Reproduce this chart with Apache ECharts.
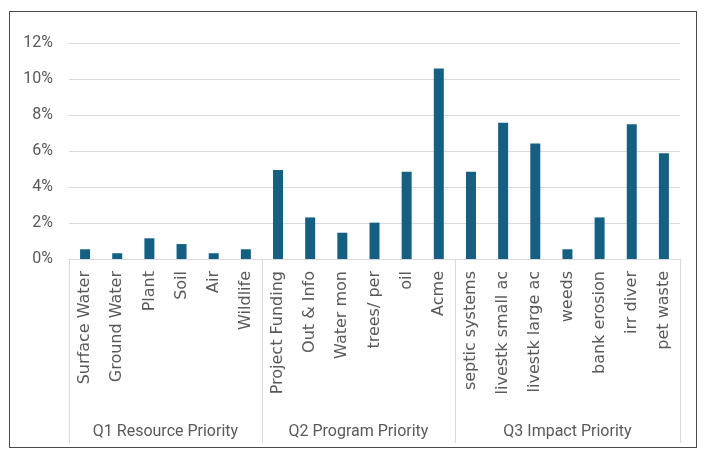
<!DOCTYPE html>
<html>
<head>
<meta charset="utf-8">
<script src="https://cdn.jsdelivr.net/npm/echarts@6/dist/echarts.min.js"></script>
<style>
  html, body { margin: 0; padding: 0; background: #fff; }
  #chart {
    position: absolute;
    left: 9px;
    top: 11px;
    width: 686px;
    height: 435px;
    border: 1px solid #4a4a4a;
  }
</style>
</head>
<body>
<div id="chart"></div>
<script>
// categories, grouped like Excel's multi-level axis
const categories = [
  'Surface Water', 'Ground Water', 'Plant', 'Soil', 'Air', 'Wildlife',
  'Project Funding', 'Out & Info', 'Water mon', 'trees/ per', 'oil', 'Acme',
  'septic systems', 'livestk small ac', 'livestk large ac', 'weeds', 'bank erosion', 'irr diver', 'pet waste'
]
const groupNames = ['Q1 Resource Priority', 'Q2 Program Priority', 'Q3 Impact Priority']
const groupSizes = [6, 6, 7]

// percent values
const values = [
  0.54, 0.32, 1.15, 0.83, 0.32, 0.54,
  4.94, 2.31, 1.46, 2.02, 4.85, 10.59,
  4.85, 7.57, 6.41, 0.54, 2.31, 7.48, 5.87
]

const yTicks = { min: 0, max: 12, step: 2 }

// group boundaries (category index where each group starts)
const groupStarts = []
let acc = 0
groupSizes.forEach(n => { groupStarts.push(acc); acc += n })

// second axis uses half-category points so group labels land on group centres
const halfPoints = new Array(categories.length * 2 + 1).fill('')
groupNames.forEach((name, i) => {
  halfPoints[groupStarts[i] * 2 + groupSizes[i]] = name
})

const chart = echarts.init(document.getElementById('chart'))

const textColor = '#595959'
const lineColor = '#d9d9d9'

chart.setOption({
  animation: false,
  grid: {
    left: 59,
    right: 16,
    top: 31,
    bottom: 188,
    containLabel: false
  },
  xAxis: [
    {
      type: 'category',
      data: categories,
      position: 'bottom',
      axisLine: { show: true, lineStyle: { color: lineColor, width: 1 } },
      axisTick: {
        show: true,
        length: 184,
        interval: (i) => groupStarts.includes(i),
        lineStyle: { color: lineColor, width: 1 }
      },
      axisLabel: {
        rotate: 90,
        interval: 0,
        margin: 12,
        color: textColor,
        fontSize: 16,
        fontFamily: 'DejaVu Sans'
      }
    },
    {
      type: 'category',
      data: halfPoints,
      position: 'bottom',
      boundaryGap: false,
      offset: 161,
      axisLine: { show: false },
      axisTick: { show: false },
      axisLabel: {
        interval: 0,
        margin: 4,
        color: textColor,
        fontSize: 16,
        fontFamily: 'Roboto'
      }
    }
  ],
  yAxis: {
    type: 'value',
    min: yTicks.min,
    max: yTicks.max,
    interval: yTicks.step,
    axisLine: { show: false },
    axisTick: { show: false },
    splitLine: { lineStyle: { color: lineColor, width: 1 } },
    axisLabel: {
      formatter: '{value}%',
      margin: 16,
      color: textColor,
      fontSize: 16,
      fontFamily: 'Roboto'
    }
  },
  series: [
    {
      type: 'bar',
      xAxisIndex: 0,
      data: values,
      barWidth: 10,
      itemStyle: { color: '#156082' }
    }
  ]
})
</script>
</body>
</html>
